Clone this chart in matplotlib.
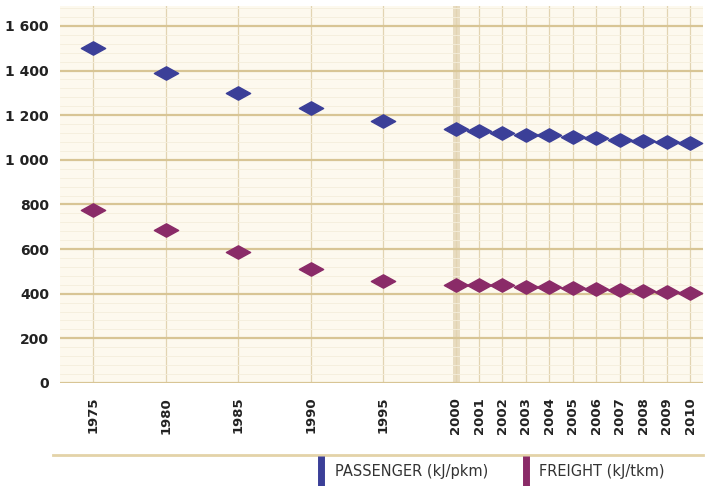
import numpy as np
import matplotlib
matplotlib.use("Agg")
import matplotlib.pyplot as plt
from matplotlib.path import Path
from matplotlib.lines import Line2D
from matplotlib.ticker import FixedLocator, FuncFormatter, MultipleLocator

years = [1975, 1980, 1985, 1990, 1995, 2000, 2001, 2002, 2003, 2004, 2005,
         2006, 2007, 2008, 2009, 2010]
passenger = [1500, 1390, 1300, 1232, 1175, 1140, 1127, 1119, 1112, 1110, 1104,
             1097, 1090, 1083, 1078, 1074]
freight = [775, 685, 585, 510, 455, 440, 440, 437, 432, 429, 425,
           421, 417, 413, 408, 405]
series_labels = ["PASSENGER (kJ/pkm)", "FREIGHT (kJ/tkm)"]
y_ticks = [0, 200, 400, 600, 800, 1000, 1200, 1400, 1600]

c_pass = "#3b3f98"
c_frei = "#8a2b68"
bg = "#fdf9ee"
grid_c = "#d8c595"

K = 1.62  # yearly spacing stretch after 2000


def fwd(x):
    x = np.asarray(x, dtype=float)
    return np.where(x <= 2000, x, 2000 + (x - 2000) * K)


def inv(x):
    x = np.asarray(x, dtype=float)
    return np.where(x <= 2000, x, 2000 + (x - 2000) / K)


diamond = Path([(-1, 0), (0, 0.55), (1, 0), (0, -0.55), (-1, 0)],
               [Path.MOVETO, Path.LINETO, Path.LINETO, Path.LINETO, Path.CLOSEPOLY])

fig = plt.figure(figsize=(7.06, 4.86), dpi=100)
ax = fig.add_axes([0.085, 0.212, 0.911, 0.776])
ax.set_facecolor(bg)
ax.set_xscale("function", functions=(fwd, inv))
ax.set_xlim(1972.7, 2010.55)
ax.set_ylim(0, 1690)

ax.yaxis.set_major_locator(FixedLocator(y_ticks))
ax.yaxis.set_minor_locator(MultipleLocator(40))
ax.xaxis.set_major_locator(FixedLocator(years))
ax.xaxis.set_minor_locator(FixedLocator([]))
ax.yaxis.set_major_formatter(FuncFormatter(lambda v, p: f"{int(v):,}".replace(",", " ")))
ax.xaxis.set_major_formatter(FuncFormatter(lambda v, p: f"{int(round(v))}"))

ax.grid(True, which="major", axis="y", color=grid_c, lw=1.6)
ax.grid(True, which="minor", axis="y", color="#f4eedc", lw=0.6)
ax.grid(True, which="major", axis="x", color="#e2d4b2", lw=0.9)
ax.axvline(2000, color="#e8dcc0", lw=5, zorder=0.5)
ax.set_axisbelow(True)

for s in ax.spines.values():
    s.set_visible(False)
ax.tick_params(axis="both", which="both", length=0)
ax.tick_params(axis="y", labelsize=10, pad=8, colors="#222222")
ax.tick_params(axis="x", labelsize=9.5, pad=10, colors="#222222", rotation=90)
for lab in ax.get_yticklabels() + ax.get_xticklabels():
    lab.set_fontweight("bold")

ax.plot(years, passenger, ls="none", marker=diamond, ms=17.5, color=c_pass,
        mec=c_pass, zorder=3)
ax.plot(years, freight, ls="none", marker=diamond, ms=17.5, color=c_frei,
        mec=c_frei, zorder=3)

fig.add_artist(Line2D([0.075, 0.996], [(486 - 455) / 486] * 2,
                      transform=fig.transFigure, color="#e3d3a8", lw=2))

handles = [Line2D([], [], ls="none", marker="|", ms=22, mew=5, color=c_pass),
           Line2D([], [], ls="none", marker="|", ms=22, mew=5, color=c_frei)]
fig.legend(handles, series_labels, loc="center", bbox_to_anchor=(0.694, 0.03),
           ncol=2, frameon=False, fontsize=10.5, columnspacing=2.2,
           handlelength=0.8, handletextpad=0.5, labelcolor="#333333")

fig.savefig("out.png", dpi=100, facecolor="white")
